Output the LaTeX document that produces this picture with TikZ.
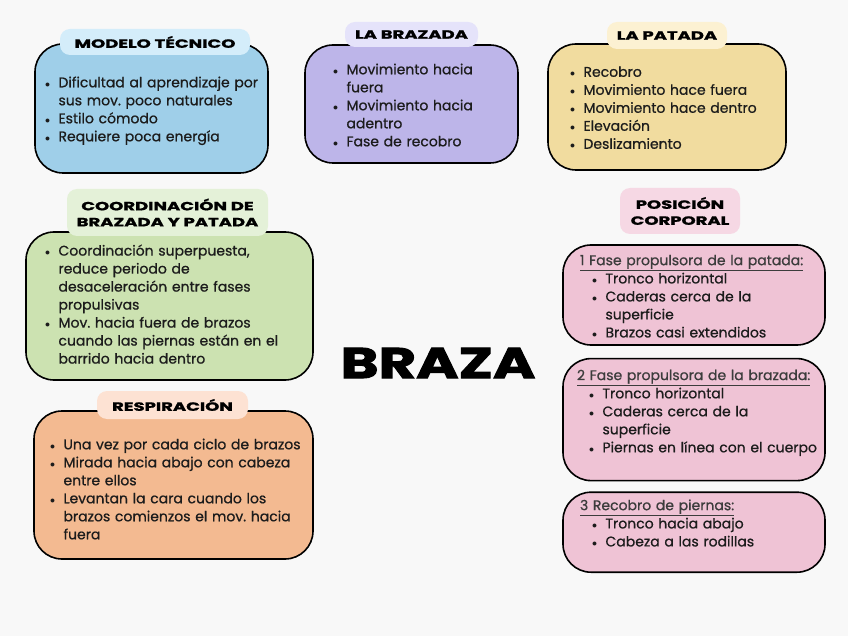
\documentclass[tikz,border=0pt]{standalone}
\usepackage{fontspec}
\setmainfont{Poppins}
\usepackage{graphicx}
\usepackage{xcolor}
\usetikzlibrary{positioning}

\definecolor{fondo}{HTML}{F8F8F8}
\definecolor{azul}{HTML}{9FCFE9}
\definecolor{azulclaro}{HTML}{D4EDFA}
\definecolor{lila}{HTML}{BDB5E9}
\definecolor{lilaclaro}{HTML}{E5E3FA}
\definecolor{amarillo}{HTML}{F1DC9F}
\definecolor{amarilloclaro}{HTML}{FCF1D2}
\definecolor{verde}{HTML}{CCE2B1}
\definecolor{verdeclaro}{HTML}{E4F1D8}
\definecolor{naranja}{HTML}{F3BA91}
\definecolor{naranjaclaro}{HTML}{FDE2D3}
\definecolor{rosa}{HTML}{EFC3D5}
\definecolor{rosaclaro}{HTML}{F6D8E4}
\definecolor{textcol}{HTML}{1C1C1C}
\definecolor{gris}{HTML}{3C3C3C}

\newcommand{\bul}{\makebox[13.5pt][l]{${\scriptstyle\bullet}$}}
\newcommand{\ind}{\hspace*{13.5pt}}
\newcommand{\sang}{\hspace*{12pt}}
\newcommand{\pri}[1]{\rule{0pt}{#1}}
\newcommand{\wide}[1]{\scalebox{1.5}[1]{#1}}
\newcommand{\cab}[1]{{\color{gris}\underline{#1}}}
\frenchspacing

\begin{document}
\begin{tikzpicture}[x=1pt, y=-1pt, node distance=2cm]
			\tikzstyle{bloque} = [rectangle, rounded corners=28pt, draw=black, line width=1.6pt, inner sep=0pt, align=left, text=textcol, font=\fontsize{14}{18}\selectfont\addfontfeature{FakeBold=0.8}]
			\tikzstyle{titulo} = [rectangle, rounded corners=10pt, inner sep=0pt, align=center, text=black, font=\fontsize{12}{16}\selectfont\bfseries\addfontfeature{FakeBold=1.2}]
			\tikzstyle{fase} = [bloque, fill=rosa, minimum width=262pt]

			\fill [fondo] (0,0) rectangle (848,636);
			\useasboundingbox (0,0) rectangle (848,636);

			\node (modelo) [bloque, fill=azul, minimum width=233pt, minimum height=129pt, text width=213pt] at (151.5,108.5) {\begin{tabular}{@{}l@{}}
				\pri{17pt}\bul Dificultad al aprendizaje por\\ \ind sus mov. poco naturales\\ \bul Estilo cómodo\\ \bul Requiere poca energía
			\end{tabular}};
			\node (brazada) [bloque, fill=lila, minimum width=213pt, minimum height=118pt, text width=157pt] at (411.5,104) {\begin{tabular}{@{}l@{}}
				\pri{18pt}\bul Movimiento hacia\\ \ind fuera\\ \bul Movimiento hacia\\ \ind adentro\\ \bul Fase de recobro
			\end{tabular}};
			\node (patada) [bloque, fill=amarillo, minimum width=238pt, minimum height=126pt, text width=194pt] at (667,107) {\begin{tabular}{@{}l@{}}
				\pri{17pt}\bul Recobro\\ \bul Movimiento hace fuera\\ \bul Movimiento hace dentro\\ \bul Elevación\\ \bul Deslizamiento
			\end{tabular}};
			\node (coord) [bloque, fill=verde, minimum width=287pt, minimum height=148pt, text width=249pt] at (169.5,306) {\begin{tabular}{@{}l@{}}
				\bul Coordinación superpuesta,\\ \ind reduce periodo de\\ \ind desaceleración entre fases\\ \ind propulsivas\\
				\bul Mov. hacia fuera de brazos\\ \ind cuando las piernas están en el\\ \ind barrido hacia dentro
			\end{tabular}};
			\node (resp) [bloque, fill=naranja, minimum width=279pt, minimum height=148pt, text width=247pt] at (173.5,485) {\begin{tabular}{@{}l@{}}
				\pri{24pt}\bul Una vez por cada ciclo de brazos\\ \bul Mirada hacia abajo con cabeza\\ \ind entre ellos\\
				\bul Levantan la cara cuando los\\ \ind brazos comienzos el mov. hacia\\ \ind fuera
			\end{tabular}};

			\node (fase1) [fase, minimum height=100pt, text width=228pt] at (694,295) {\begin{tabular}{@{}l@{}}
				\pri{18pt}\cab{1\,\,Fase propulsora de la patada:}\\ \sang\bul Tronco horizontal\\ \sang\bul Caderas cerca de la\\ \sang\ind superficie\\ \sang\bul Brazos casi extendidos
			\end{tabular}};
			\node (fase2) [fase, minimum height=122pt, text width=234pt, below=12pt of fase1] {\begin{tabular}{@{}l@{}}
				\cab{2 Fase propulsora de la brazada:}\\ \sang\bul Tronco horizontal\\ \sang\bul Caderas cerca de la\\ \sang\ind superficie\\ \sang\bul Piernas en línea con el cuerpo\\[14pt]
			\end{tabular}};
			\node (fase3) [fase, minimum height=80pt, text width=228pt, below=10pt of fase2] {\begin{tabular}{@{}l@{}}
				\cab{3 Recobro de piernas:}\\ \sang\bul Tronco hacia abajo\\ \sang\bul Cabeza a las rodillas\\[15pt]
			\end{tabular}};

			\node (modelotit) [titulo, fill=azulclaro, minimum width=190pt, minimum height=26pt, above=-12pt of modelo.north, xshift=3.5pt] {\wide{MODELO TÉCNICO}};
			\node (brazadatit) [titulo, fill=lilaclaro, minimum width=133pt, minimum height=25pt, above=-3pt of brazada.north] {\wide{LA BRAZADA}};
			\node (patadatit) [titulo, fill=amarilloclaro, minimum width=120pt, minimum height=27pt, above=-6pt of patada.north] {\wide{LA PATADA}};
			\node (coordtit) [titulo, fill=verdeclaro, minimum width=201pt, minimum height=47pt, above=-5pt of coord.north, xshift=-2pt] {\wide{COORDINACIÓN DE}\\ \wide{BRAZADA Y PATADA}};
			\node (resptit) [titulo, fill=naranjaclaro, minimum width=151pt, minimum height=28pt, above=-9pt of resp.north, xshift=-1pt] {\wide{RESPIRACIÓN}};
			\node (posicion) [titulo, fill=rosaclaro, minimum width=120pt, minimum height=46pt, above=10pt of fase1.north, xshift=-14pt] {\wide{POSICIÓN}\\ \wide{CORPORAL}};

			\node (braza) [inner sep=0pt, font=\fontsize{43}{43}\selectfont\bfseries\addfontfeature{FakeBold=2}] at (438,363) {\scalebox{1.34}[1]{BRAZA}};

		\end{tikzpicture}
\end{document}
